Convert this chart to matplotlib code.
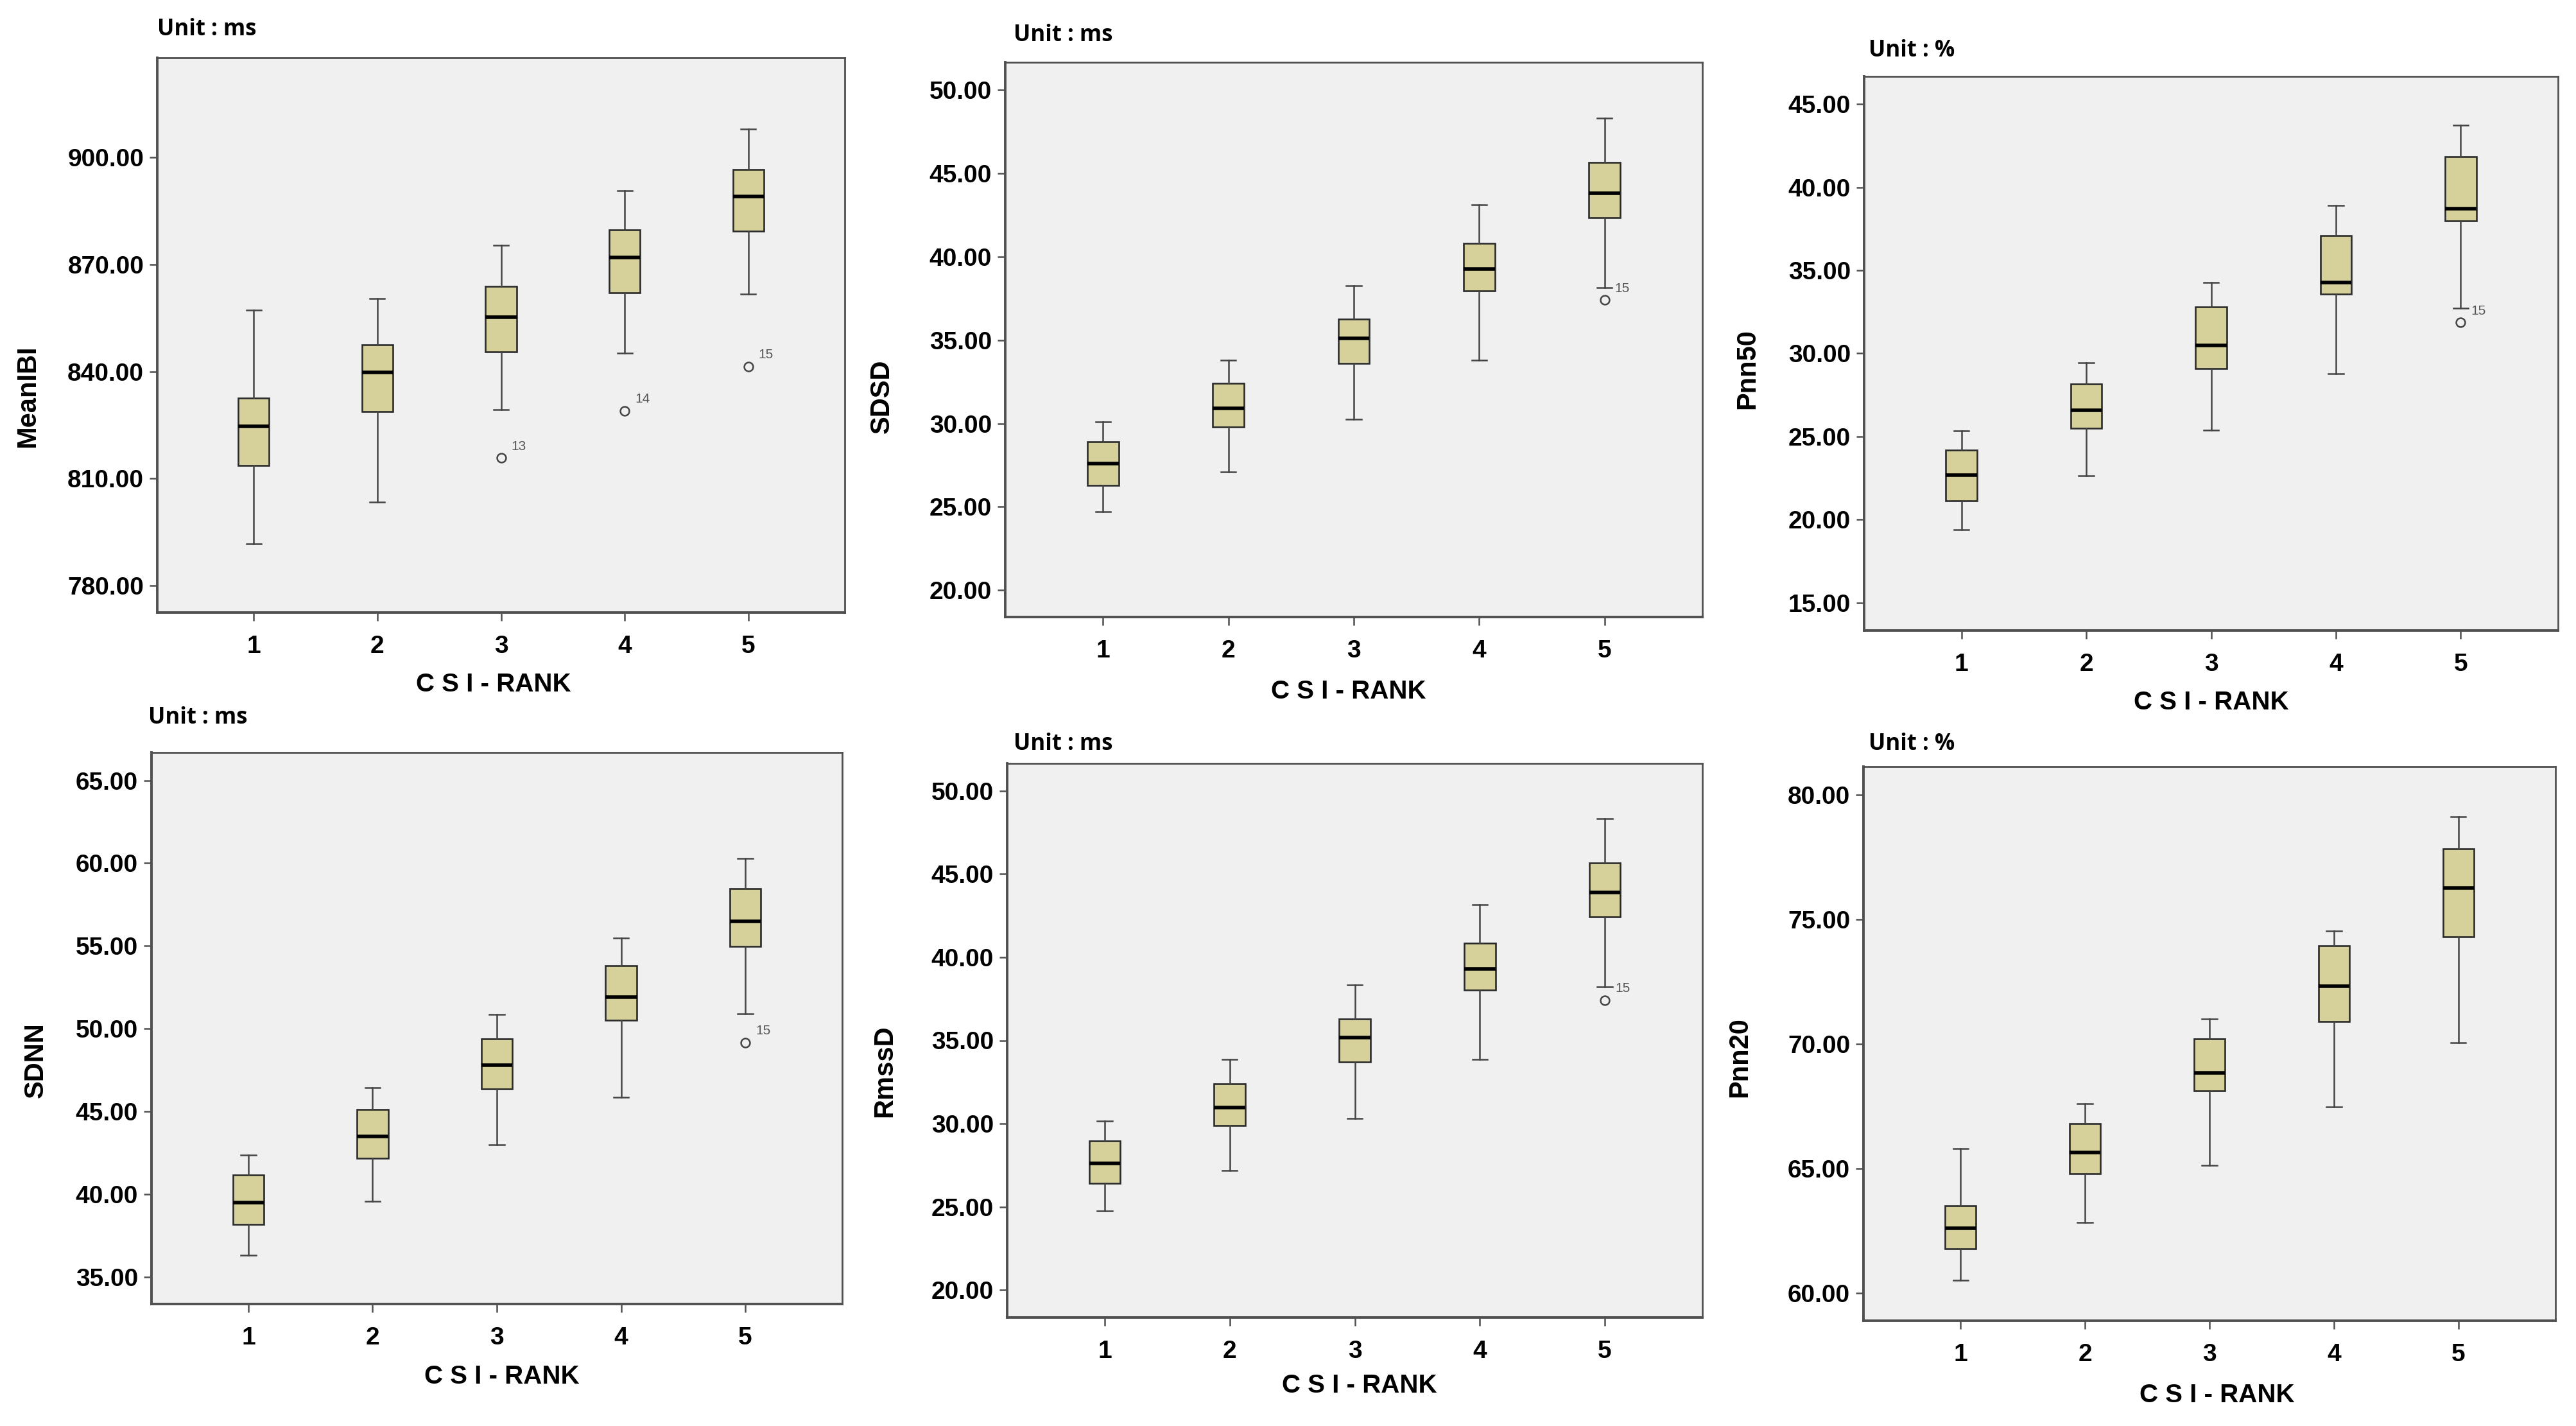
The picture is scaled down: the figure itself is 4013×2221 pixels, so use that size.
import matplotlib
matplotlib.use("Agg")
import matplotlib.pyplot as plt
from matplotlib import font_manager

# ---------------- data ----------------
ranks = [1, 2, 3, 4, 5]
rank_labels = ["1", "2", "3", "4", "5"]

meanibi_whishi = [857.3, 860.4, 875.4, 890.7, 908.0]
meanibi_q3 = [832.5, 847.5, 863.9, 879.8, 896.7]
meanibi_med = [824.7, 839.8, 855.3, 872.0, 889.1]
meanibi_q1 = [813.6, 828.8, 845.6, 862.1, 879.3]
meanibi_whislo = [791.7, 803.4, 829.3, 845.1, 861.7]
meanibi_out_rank = [3, 4, 5]
meanibi_out_val = [815.8, 829.0, 841.4]
meanibi_out_lbl = ["13", "14", "15"]

sdsd_whishi = [30.1, 33.8, 38.25, 43.1, 48.3]
sdsd_q3 = [28.9, 32.4, 36.25, 40.8, 45.65]
sdsd_med = [27.6, 30.9, 35.1, 39.25, 43.8]
sdsd_q1 = [26.3, 29.8, 33.6, 37.95, 42.35]
sdsd_whislo = [24.7, 27.1, 30.25, 33.8, 38.15]
sdsd_out_rank = [5]
sdsd_out_val = [37.4]
sdsd_out_lbl = ["15"]

pnn50_whishi = [25.34, 29.43, 34.26, 38.92, 43.73]
pnn50_q3 = [24.17, 28.15, 32.82, 37.1, 41.85]
pnn50_med = [22.68, 26.56, 30.49, 34.26, 38.71]
pnn50_q1 = [21.13, 25.5, 29.11, 33.58, 37.98]
pnn50_whislo = [19.4, 22.62, 25.39, 28.78, 32.71]
pnn50_out_rank = [5]
pnn50_out_val = [31.87]
pnn50_out_lbl = ["15"]

sdnn_whishi = [42.38, 46.43, 50.86, 55.49, 60.29]
sdnn_q3 = [41.16, 45.13, 49.37, 53.8, 58.46]
sdnn_med = [39.5, 43.49, 47.78, 51.91, 56.49]
sdnn_q1 = [38.19, 42.18, 46.37, 50.5, 54.99]
sdnn_whislo = [36.3, 39.58, 42.99, 45.84, 50.89]
sdnn_out_rank = [5]
sdnn_out_val = [49.17]
sdnn_out_lbl = ["15"]

rmssd_whishi = [30.15, 33.87, 38.34, 43.16, 48.35]
rmssd_q3 = [28.96, 32.41, 36.30, 40.85, 45.67]
rmssd_med = [27.61, 30.95, 35.17, 39.30, 43.88]
rmssd_q1 = [26.40, 29.88, 33.71, 38.01, 42.42]
rmssd_whislo = [24.74, 27.17, 30.31, 33.87, 38.23]
rmssd_out_rank = [5]
rmssd_out_val = [37.43]
rmssd_out_lbl = ["15"]

pnn20_whishi = [65.81, 67.61, 71.02, 74.53, 79.12]
pnn20_q3 = [63.52, 66.8, 70.22, 73.94, 77.84]
pnn20_med = [62.62, 65.66, 68.85, 72.33, 76.26]
pnn20_q1 = [61.79, 64.79, 68.12, 70.91, 74.32]
pnn20_whislo = [60.52, 62.84, 65.14, 67.47, 70.05]
pnn20_out_rank = []
pnn20_out_val = []
pnn20_out_lbl = []

# ---------------- fonts ----------------
available = {f.name for f in font_manager.fontManager.ttflist}
narrow = "Liberation Sans Narrow" if "Liberation Sans Narrow" in available else "Liberation Sans"
unit_font = "Open Sans" if "Open Sans" in available else "DejaVu Sans"
plt.rcParams["font.family"] = [narrow, "DejaVu Sans"]

W, H = 4013, 2221
fig = plt.figure(figsize=(W / 100, H / 100), dpi=100)
fig.patch.set_facecolor("white")

BOX_FACE = "#D6D09A"
EDGE = "#2b2b2b"
WHISK = "#444444"
FRAME = "#505050"


def panel(rect, ylim, yticks, ylabel, unit, unit_xy, ylabel_xy, xlabel_xy,
          whishi, q3, med, q1, whislo, out_rank, out_val, out_lbl):
    l, t, r, b = rect
    ax = fig.add_axes([l / W, 1 - b / H, (r - l) / W, (b - t) / H])
    ax.set_facecolor("#F0F0F0")
    stats = []
    for i, x in enumerate(ranks):
        fl = [v for rk, v in zip(out_rank, out_val) if rk == x]
        stats.append(dict(med=med[i], q1=q1[i], q3=q3[i], whislo=whislo[i],
                          whishi=whishi[i], fliers=fl))
    ax.bxp(stats, positions=ranks, widths=0.25, capwidths=0.12, patch_artist=True,
           showfliers=True, manage_ticks=False,
           boxprops=dict(facecolor=BOX_FACE, edgecolor=EDGE, linewidth=1.9),
           medianprops=dict(color="black", linewidth=4.0),
           whiskerprops=dict(color=WHISK, linewidth=1.8),
           capprops=dict(color=WHISK, linewidth=1.8),
           flierprops=dict(marker="o", markerfacecolor="none", markeredgecolor="#444444",
                           markersize=10, markeredgewidth=1.8))
    for rk, v, lb in zip(out_rank, out_val, out_lbl):
        ax.annotate(lb, (rk, v), xytext=(16, 18), textcoords="offset pixels",
                    ha="left", va="center", fontsize=15, color="#555555",
                    fontweight="normal")
    ax.set_xlim(0.22, 5.78)
    ax.set_ylim(*ylim)
    ax.set_xticks(ranks)
    ax.set_xticklabels(rank_labels)
    ax.set_yticks(yticks)
    ax.set_yticklabels(["%.2f" % v for v in yticks])
    for s in ax.spines.values():
        s.set_color(FRAME)
        s.set_linewidth(2.0)
    ax.spines["left"].set_linewidth(2.8)
    ax.spines["bottom"].set_linewidth(2.8)
    ax.tick_params(axis="both", direction="out", length=9, width=1.8, color=FRAME,
                   labelsize=28)
    ax.tick_params(axis="x", pad=16)
    ax.tick_params(axis="y", pad=6)
    for lab in ax.get_xticklabels() + ax.get_yticklabels():
        lab.set_fontweight("bold")
    fig.text(unit_xy[0] / W, 1 - unit_xy[1] / H, unit, family=[unit_font, "DejaVu Sans"],
             fontsize=25, fontweight="bold", ha="left", va="center")
    fig.text(ylabel_xy[0] / W, 1 - ylabel_xy[1] / H, ylabel, rotation=90,
             fontsize=30, fontweight="bold", ha="center", va="center")
    fig.text(xlabel_xy[0] / W, 1 - xlabel_xy[1] / H, "C S I - RANK",
             fontsize=29, fontweight="bold", ha="center", va="center")
    return ax


panel((245, 90, 1316, 954), (772.4, 928.0), [780, 810, 840, 870, 900], "MeanIBI",
      "Unit : ms", (245, 46), (43, 617), (769, 1066),
      meanibi_whishi, meanibi_q3, meanibi_med, meanibi_q1, meanibi_whislo,
      meanibi_out_rank, meanibi_out_val, meanibi_out_lbl)

panel((1566, 97, 2652, 961), (18.4, 51.65), [20, 25, 30, 35, 40, 45, 50], "SDSD",
      "Unit : ms", (1579, 55), (1374, 617), (2101, 1077),
      sdsd_whishi, sdsd_q3, sdsd_med, sdsd_q1, sdsd_whislo,
      sdsd_out_rank, sdsd_out_val, sdsd_out_lbl)

panel((2904, 119, 3985, 982), (13.32, 46.68), [15, 20, 25, 30, 35, 40, 45], "Pnn50",
      "Unit : %", (2911, 79), (2722, 575), (3445, 1094),
      pnn50_whishi, pnn50_q3, pnn50_med, pnn50_q1, pnn50_whislo,
      pnn50_out_rank, pnn50_out_val, pnn50_out_lbl)

panel((236, 1172, 1312, 2031), (33.36, 66.69), [35, 40, 45, 50, 55, 60, 65], "SDNN",
      "Unit : ms", (231, 1118), (56, 1651), (782, 2144),
      sdnn_whishi, sdnn_q3, sdnn_med, sdnn_q1, sdnn_whislo,
      sdnn_out_rank, sdnn_out_val, sdnn_out_lbl)

panel((1569, 1189, 2652, 2052), (18.35, 51.65), [20, 25, 30, 35, 40, 45, 50], "RmssD",
      "Unit : ms", (1579, 1159), (1378, 1668), (2118, 2158),
      rmssd_whishi, rmssd_q3, rmssd_med, rmssd_q1, rmssd_whislo,
      rmssd_out_rank, rmssd_out_val, rmssd_out_lbl)

panel((2903, 1194, 3981, 2057), (58.9, 81.14), [60, 65, 70, 75, 80], "Pnn20",
      "Unit : %", (2911, 1159), (2710, 1647), (3454, 2173),
      pnn20_whishi, pnn20_q3, pnn20_med, pnn20_q1, pnn20_whislo,
      pnn20_out_rank, pnn20_out_val, pnn20_out_lbl)

fig.savefig("out.png", dpi=100, facecolor="white")
